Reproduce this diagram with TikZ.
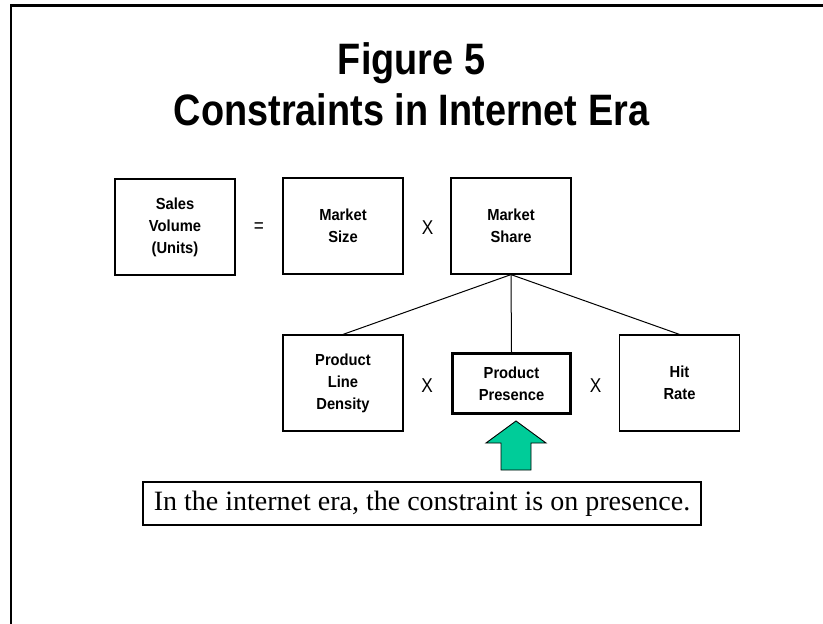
\documentclass[tikz,border=0pt]{standalone}
\usepackage{fontspec}
\setmainfont{Liberation Serif}
\newfontfamily\arialfont{Liberation Sans}
\newfontfamily\labelfont[FakeStretch=0.92]{Liberation Sans}
\newfontfamily\narrowfont[FakeStretch=0.86]{Liberation Sans}
\definecolor{arrowgreen}{RGB}{0,204,153}
\tikzset{
  box/.style={draw=black, line width=1.2pt, minimum width=120pt, minimum height=96pt,
    inner sep=0pt, align=center, font={\labelfont\bfseries\fontsize{16}{22}\selectfont}},
  thickbox/.style={box, line width=3pt, minimum width=118pt, minimum height=60pt},
  op/.style={font={\narrowfont\fontsize{20}{22}\selectfont}, inner sep=0pt},
  conn/.style={draw=black, line width=1pt},
  titletext/.style={font={\narrowfont\bfseries\fontsize{44}{48}\selectfont}, inner sep=0pt, anchor=base},
  notebox/.style={draw=black, line width=1.2pt, minimum width=558pt, minimum height=43pt,
    inner sep=0pt, font={\fontsize{28}{32}\selectfont}}
}
\begin{document}
\begin{tikzpicture}[x=1pt, y=-1pt]
\useasboundingbox (0,0) rectangle (823,624);
% frame
\draw[line width=2.2pt] (11,624) -- (11,5.5) -- (823,5.5);
% title
\node[titletext] (t1) at (411.5,74) {Figure 5};
\node[titletext] (t2) at (411.5,125) {Constraints in Internet Era};
% top row
\node[box] (sales) at (175,227) {Sales\\Volume\\(Units)};
\node[op] (eq) at (259,228) {=};
\node[box] (msize) at (343,226) {Market\\Size};
\node[op] (x1) at (427.5,228) {X};
\node[box] (mshare) at (511,226) {Market\\Share};
% bottom row
\node[box] (pld) at (343,383) {Product\\Line\\Density};
\node[op] (x2) at (427,386) {X};
\node[thickbox] (pp) at (511.5,383.5) {Product\\Presence};
\node[op] (x3) at (595.5,386) {X};
\node[box] (hit) at (679.5,383) {Hit\\Rate};
% connectors
\draw[conn] (mshare.south) -- (pld.north);
\draw[conn] (mshare.south) -- (pp.north);
\draw[conn] (mshare.south) -- (hit.north);
% arrow
\draw[fill=arrowgreen, draw=black, line width=0.9pt, line join=miter]
  (516,421) -- (546,443) -- (531,443) -- (531,470) -- (501,470) -- (501,443) -- (486,443) -- cycle;
% note
\node[notebox] (note) at (422,503.5) {In the internet era, the constraint is on presence.};
\end{tikzpicture}
\end{document}
